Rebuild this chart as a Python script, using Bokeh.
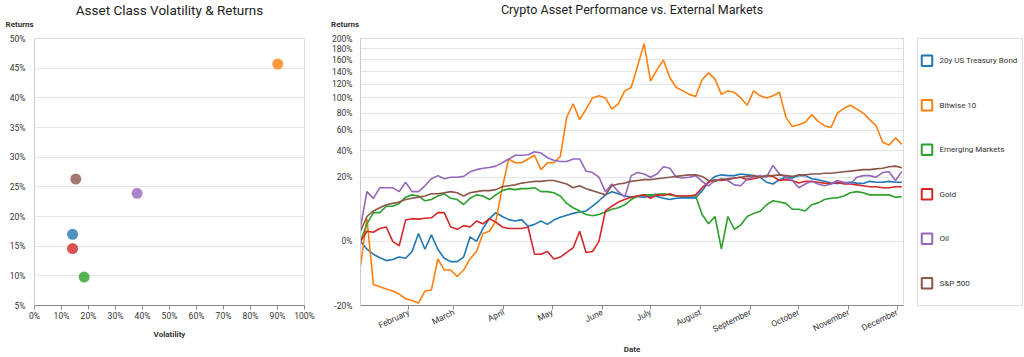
import numpy as np
import pandas as pd
from datetime import datetime
from bokeh.plotting import figure
from bokeh.layouts import row, column
from bokeh.models import (Range1d, FixedTicker, CustomJSTickFormatter, PrintfTickFormatter,
                          DatetimeTickFormatter, ColumnDataSource)
from bokeh.embed import file_html
from bokeh.resources import INLINE
from bokeh.core.properties import value

FONT = "Roboto"
TXT = "#333333"

# ---------------- data ----------------
assets = ["20y US Treasury Bond", "Bitwise 10", "Emerging Markets", "Gold", "Oil", "S&P 500"]
colors = ["#1f77b4", "#ff7f0e", "#2ca02c", "#d62728", "#9467bd", "#8c564b"]

volatility = [14.1, 90.1, 18.4, 14.1, 38.0, 15.3]        # %
annual_returns = [17.0, 45.7, 9.8, 14.6, 23.9, 26.3]     # %

dates = pd.date_range("2019-01-02", periods=85, freq="4D")

treasury = [0, -0.3, -0.8, -1.3, -1.8, -1.6, -1.2, -1.4, -0.5, 0.3, -0.3, 0.2, -0.3, -1.4, -2, -2,
            -1.2, 0.1, 0, 0.8, 2.5, 4, 3, 2.3, 2, 2.3, 1.1, 1.4, 2, 1.4,
            2.2, 2.8, 3.3, 3.8, 4.2, 4.5, 6, 8, 10.5, 12, 11, 10, 9.5, 9.8, 9.5,
            10, 9.8, 9, 8.5, 9, 9.2, 9.2, 9.2, 12.5, 17, 20.5, 21.5, 21, 21,
            22, 21.5, 21, 20, 17, 16, 18.5, 20, 19.5, 21, 21, 19, 18.5, 17.5, 16.5,
            16.3, 16.6, 17, 16.5, 16.3, 17.5, 17, 17, 17.5, 17, 17]
bitwise10 = [-3, 2.5, -9, -10, -11, -12, -13.5, -16, -17, -18.5,
             -12, -11.5, -1.5, -4, -4, -6, -4, -1.5, -0.5, 0.3,
             0.5, 2, 14, 33, 30, 30, 33, 36, 25, 30,
             30, 35, 75, 92, 72, 85, 100, 103, 100, 85,
             92, 110, 115, 150, 190, 125, 143, 160, 130, 115,
             110, 105, 102, 127, 138, 128, 105, 110, 108, 100,
             90, 110, 103, 100, 103, 108, 75, 64, 66, 69,
             78, 70, 65, 63, 80, 86, 90, 85, 80, 72,
             65, 48, 45, 52, 45.7]
emerging = [0, 1.5, 4, 4, 6, 6, 7, 9.5, 10.5, 10, 8, 8.5, 10, 11, 9, 8.5,
            6.6, 9, 10.5, 10, 8.5, 10.5, 12.5, 13.5, 13, 13.5, 13.5, 14, 12, 12,
            11.5, 10, 7, 5.5, 4.5, 3.5, 3.2, 3.5, 4.2, 5, 5.5, 6.5, 8.5, 10, 10.5,
            10.5, 10.8, 11, 10.5, 10, 10, 10, 10, 3.5, 1.5, 3, -0.3, 3, 0.7,
            1.3, 3, 3.8, 4.4, 6.5, 8, 7.5, 7, 5, 5, 4.5, 6.5, 7.2, 8.5, 9,
            9.2, 10, 11.5, 12, 11.5, 10.5, 10.5, 10.5, 10.5, 9.5, 9.7]
gold = [0, 0.5, 0.4, 0.8, 1, 0, -0.1, 2.2, 2.5, 2.4, 2.6, 2.7, 4, 4, 1, 0.7,
        1.2, 1, 2, 1.5, 2.5, 1.8, 1, 0.8, 0.8, 0.8, 1, -0.8, -0.8, -0.5,
        -1.5, -1.2, -0.6, -0.2, 0.5, -0.6, -0.5, 0, 4.5, 6, 7.5, 8.5, 9.5, 10, 10.5,
        9, 10.5, 10.2, 11, 10, 10, 10, 10.5, 14, 17, 18.5, 18, 18.5, 19.5,
        20, 18.5, 19, 20, 21, 20.5, 18, 18.5, 18, 16.5, 17.5, 17.5, 17, 16.5, 16.2,
        17, 16, 16, 15.5, 15, 14.5, 14.5, 14, 14, 14.5, 14.5]
oil = [1, 12, 9, 14, 14, 14, 12, 17, 12, 12, 15, 19, 21, 19, 20, 20,
       20.5, 23.5, 25, 26, 26.5, 27.5, 30, 33, 36, 36, 36.5, 39, 38, 34,
       32, 31, 31, 33, 33, 24, 23, 20, 12, 16, 12, 9.5, 21, 23, 22,
       20, 22, 27, 26, 20, 19.5, 20, 21, 17.5, 15, 18, 19, 18, 15.5,
       15, 19, 20, 21, 20, 28, 22, 20, 18, 14, 16, 17.5, 16, 15, 16,
       18, 17, 16, 20, 21, 21, 20, 23, 23.5, 18, 23.8]
sp500 = [0.5, 3, 4.5, 5.5, 6.5, 7, 7.5, 8.5, 9, 9.5, 10, 11, 11, 11.5, 12, 11.5,
         10, 11.5, 12, 12.5, 12.5, 13, 14.5, 15, 15.5, 16.5, 17, 17.5, 17.5, 18,
         18, 17, 16, 14, 15, 13.5, 12.5, 11.5, 10.5, 15, 16, 16.5, 17.5, 18, 18.5,
         18.5, 19, 19.5, 20, 20.5, 21, 21.5, 21.5, 20.5, 18, 17.5, 18.5, 19, 19.5,
         20, 20.5, 21, 20, 21, 21, 21.5, 21, 20.5, 21.5, 21.5, 22, 22, 22.5, 22.5,
         23, 23.5, 24, 24.5, 25, 25, 25.5, 26, 27, 27.5, 26.3]
series = [treasury, bitwise10, emerging, gold, oil, sp500]

vol_ticks = list(range(0, 101, 10))
ret_ticks = list(range(5, 51, 5))
perf_ticks_pct = [-20, 0, 20, 40, 60, 80, 100, 120, 140, 160, 180, 200]
month_ticks = ["2019-02-01", "2019-03-01", "2019-04-01", "2019-05-01", "2019-06-01", "2019-07-01",
               "2019-08-01", "2019-09-01", "2019-10-01", "2019-11-01", "2019-12-01"]

chart_titles = ["Asset Class Volatility & Returns", "Crypto Asset Performance vs. External Markets"]
y_titles = ["Returns", "Returns"]

HEAD_H = 32
BODY_H = 357 - HEAD_H


def sqrt_scale(v):
    v = np.asarray(v, dtype=float) / 100.0
    return np.sign(v) * np.sqrt(np.abs(v))


def style_axes(p):
    p.outline_line_color = "#dddddd"
    p.xgrid.grid_line_color = None
    p.ygrid.grid_line_color = "#e6e6e6"
    for ax in p.axis:
        ax.major_label_text_font = FONT
        ax.major_label_text_font_size = "8.5px"
        ax.major_label_text_color = TXT
        ax.axis_label_text_font = FONT
        ax.axis_label_text_font_size = "8px"
        ax.axis_label_text_font_style = "bold"
        ax.axis_label_text_color = TXT
        ax.minor_tick_line_color = None
    p.yaxis.major_tick_line_color = None
    p.yaxis.axis_line_color = "#cccccc"
    p.yaxis.major_label_standoff = 3
    p.xaxis.axis_line_color = "#888888"
    p.xaxis.major_tick_line_color = "#888888"
    p.xaxis.major_tick_out = 4
    p.xaxis.major_tick_in = 0


# ---------------- header strip: chart titles + y-axis titles ----------------
head = figure(width=1024, height=HEAD_H, x_range=Range1d(0, 1024), y_range=Range1d(HEAD_H, 0),
              x_axis_location=None, y_axis_location=None, min_border=0,
              output_backend="svg", toolbar_location=None)
head.grid.visible = False
head.outline_line_color = None
head.text(x=[169], y=[9], text=chart_titles[:1], text_font=value(FONT), text_font_size="13.5px",
          text_align="center", text_baseline="middle", text_color="#222222")
head.text(x=[631.5], y=[9], text=chart_titles[1:], text_font=value(FONT), text_font_size="12.5px",
          text_align="center", text_baseline="middle", text_color="#222222")
head.text(x=[5, 330.5], y=[24, 24], text=y_titles, text_font=value(FONT), text_font_size="8px",
          text_font_style="bold", text_align="left", text_baseline="middle", text_color=TXT)

# ---------------- left: scatter ----------------
p1 = figure(width=320, height=BODY_H, x_range=Range1d(0, 100), y_range=Range1d(5, 50),
            output_backend="svg", toolbar_location=None,
            min_border_left=34, min_border_right=16, min_border_top=38 - HEAD_H, min_border_bottom=47)
src1 = ColumnDataSource(dict(vol=volatility, ret=annual_returns, color=colors, name=assets))
p1.scatter("vol", "ret", source=src1, color="color", size=11, fill_alpha=0.8, line_color=None)
style_axes(p1)
p1.xaxis.ticker = FixedTicker(ticks=vol_ticks)
p1.yaxis.ticker = FixedTicker(ticks=ret_ticks)
p1.xaxis.formatter = PrintfTickFormatter(format="%d%%")
p1.yaxis.formatter = PrintfTickFormatter(format="%d%%")
p1.xaxis.major_label_standoff = 1
p1.xaxis.axis_label = "Volatility"
p1.xaxis.axis_label_standoff = 6

# ---------------- right: lines ----------------
p2 = figure(width=597, height=BODY_H, x_axis_type="datetime",
            x_range=Range1d(datetime(2019, 1, 2), datetime(2019, 12, 5)),
            y_range=Range1d(float(sqrt_scale(-20)), float(sqrt_scale(200))),
            output_backend="svg", toolbar_location=None,
            min_border_left=40, min_border_right=14, min_border_top=38 - HEAD_H, min_border_bottom=48)
for name, vals, c in zip(assets, series, colors):
    src = ColumnDataSource(dict(date=dates, ret=sqrt_scale(vals)))
    p2.line("date", "ret", source=src, line_color=c, line_width=1.6)
style_axes(p2)
p2.yaxis.ticker = FixedTicker(ticks=[float(t) for t in sqrt_scale(perf_ticks_pct)])
p2.yaxis.formatter = CustomJSTickFormatter(
    code="const v = Math.sign(tick) * tick * tick * 100; return Math.round(v) + '%';")
p2.yaxis.major_label_standoff = 2
p2.xaxis.ticker = FixedTicker(ticks=[int(pd.Timestamp(d).value // 10**6) for d in month_ticks])
p2.xaxis.formatter = DatetimeTickFormatter(days="%B", months="%B", years="%B")
p2.xaxis.major_label_orientation = 0.45
p2.xaxis.major_label_standoff = 2
p2.xaxis.axis_label = "Date"
p2.xaxis.axis_label_standoff = 4

# ---------------- legend panel ----------------
p3 = figure(width=107, height=BODY_H, x_range=Range1d(0, 105), y_range=Range1d(5.5, -0.5),
            x_axis_location=None, y_axis_location=None,
            output_backend="svg", toolbar_location=None,
            min_border_left=0, min_border_right=2, min_border_top=37 - HEAD_H, min_border_bottom=47)
p3.grid.visible = False
p3.outline_line_color = "#dddddd"
idx = list(range(len(assets)))
src3 = ColumnDataSource(dict(x=[9.5] * len(assets), tx=[22] * len(assets), y=idx, name=assets, color=colors))
p3.scatter("x", "y", source=src3, marker="square", size=10.5, fill_color=None, line_color="color", line_width=2)
p3.text("tx", "y", text="name", source=src3, text_font=value(FONT), text_font_size="8px",
        text_baseline="middle", text_align="left", text_color=TXT)

layout = column(head, row(p1, p2, p3))
open("out.html", "w").write(file_html(layout, INLINE))
